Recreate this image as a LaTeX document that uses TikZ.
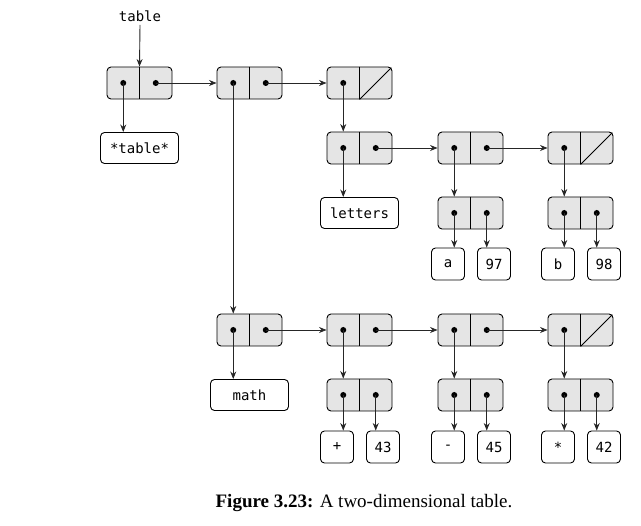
\documentclass[tikz,border=0pt]{standalone}
\usepackage{fontspec}
\setmainfont{Liberation Serif}
\newfontfamily\monof{DejaVu Sans Mono}
\usetikzlibrary{arrows.meta,calc}
\tikzset{
  conscell/.style={draw=black, fill=black!10, rounded corners=4pt, minimum width=65pt, minimum height=32pt, inner sep=0pt, line width=0.9pt},
  leafbox/.style={draw=black, fill=white, rounded corners=4pt, minimum width=33pt, minimum height=32pt, inner sep=0pt, line width=0.9pt, font=\monof\fontsize{14}{16}\selectfont},
  namebox/.style={draw=black, fill=white, rounded corners=4pt, minimum width=78pt, minimum height=31pt, inner sep=0pt, line width=0.9pt, font=\monof\fontsize{14}{16}\selectfont},
  ptr/.style={draw=black!85, line width=0.9pt, -{Stealth[length=7.5pt,width=6pt]}},
  dotc/.style={fill=black}
}
\newcommand\mkcell[3]{%
  \node[conscell] (#1) at (#2,#3) {};
  \draw[line width=0.9pt] (#1.north) -- (#1.south);
  \coordinate (#1a) at ([xshift=-16.25pt]#1.center);
  \coordinate (#1d) at ([xshift=16.25pt]#1.center);
  \fill[dotc] (#1a) circle (3pt);
}
\newcommand\fullcell[3]{\mkcell{#1}{#2}{#3}\fill[dotc] (#1d) circle (3pt);}
\newcommand\lastcell[3]{\mkcell{#1}{#2}{#3}\draw[line width=0.9pt] (#1.south) -- ([xshift=-1.2pt,yshift=-1.2pt]#1.north east);}
\begin{document}
\begin{tikzpicture}[x=1pt,y=-1pt]
\useasboundingbox (0,0) rectangle (641,526);
% top-level list
\node[font=\monof\fontsize{14}{16}\selectfont] (lbl) at (140,16) {table};
\fullcell{A}{139.5}{83}
\fullcell{B}{249.5}{83}
\lastcell{C}{359.5}{83}
\node[namebox] (tname) at (139.5,148) {*table*};
% letters subtable
\fullcell{D}{359.5}{148}
\fullcell{E}{470.5}{148}
\lastcell{F}{580.5}{148}
\node[namebox] (letters) at (359.5,213) {letters};
\fullcell{E2}{470.5}{213}
\fullcell{F2}{580.5}{213}
\node[leafbox] (la) at (448,264) {a};
\node[leafbox] (l97) at (494,264) {97};
\node[leafbox] (lb) at (558,264) {b};
\node[leafbox] (l98) at (604,264) {98};
% math subtable
\fullcell{M}{249.5}{330}
\fullcell{G}{359.5}{330}
\fullcell{H}{470.5}{330}
\lastcell{I}{580.5}{330}
\node[namebox] (math) at (249.5,395) {math};
\fullcell{G2}{359.5}{395}
\fullcell{H2}{470.5}{395}
\fullcell{I2}{580.5}{395}
\node[leafbox] (lplus) at (337,447) {+};
\node[leafbox] (l43) at (383,447) {43};
\node[leafbox] (lminus) at (448,447) {-};
\node[leafbox] (l45) at (494,447) {45};
\node[leafbox] (lstar) at (558,447) {*};
\node[leafbox] (l42) at (604,447) {42};
% pointers
\draw[ptr] (lbl.south) -- (A.north);
\draw[ptr] (Aa) -- (Aa |- tname.north);
\draw[ptr] (Ad) -- (B.west);
\draw[ptr] (Bd) -- (C.west);
\draw[ptr] (Ba) -- (Ba |- M.north);
\draw[ptr] (Ca) -- (Ca |- D.north);
\draw[ptr] (Da) -- (Da |- letters.north);
\draw[ptr] (Dd) -- (E.west);
\draw[ptr] (Ed) -- (F.west);
\draw[ptr] (Ea) -- (Ea |- E2.north);
\draw[ptr] (Fa) -- (Fa |- F2.north);
\draw[ptr] (E2a) -- (E2a |- la.north);
\draw[ptr] (E2d) -- (E2d |- l97.north);
\draw[ptr] (F2a) -- (F2a |- lb.north);
\draw[ptr] (F2d) -- (F2d |- l98.north);
\draw[ptr] (Ma) -- (Ma |- math.north);
\draw[ptr] (Md) -- (G.west);
\draw[ptr] (Gd) -- (H.west);
\draw[ptr] (Hd) -- (I.west);
\draw[ptr] (Ga) -- (Ga |- G2.north);
\draw[ptr] (Ha) -- (Ha |- H2.north);
\draw[ptr] (Ia) -- (Ia |- I2.north);
\draw[ptr] (G2a) -- (G2a |- lplus.north);
\draw[ptr] (G2d) -- (G2d |- l43.north);
\draw[ptr] (H2a) -- (H2a |- lminus.north);
\draw[ptr] (H2d) -- (H2d |- l45.north);
\draw[ptr] (I2a) -- (I2a |- lstar.north);
\draw[ptr] (I2d) -- (I2d |- l42.north);
% caption
\node[font=\fontsize{19}{22}\selectfont] (cap) at (364,503) {\textbf{Figure 3.23:} A two-dimensional table.};
\end{tikzpicture}
\end{document}
